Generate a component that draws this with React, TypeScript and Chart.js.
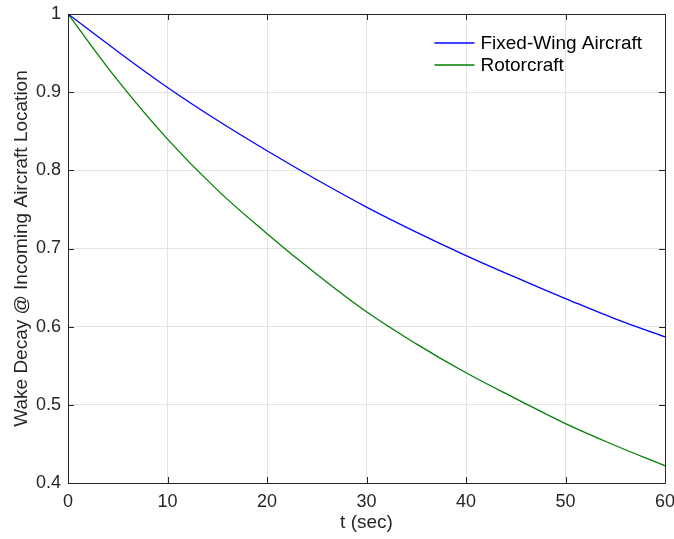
import React, { useEffect, useRef } from 'react';
import { Chart, registerables } from 'chart.js';

Chart.register(...registerables);

const timeSec = [0, 5, 10, 15, 20, 25, 30, 35, 40, 45, 50, 55, 60];
const fixedWing = [1.0, 0.952, 0.906, 0.864, 0.825, 0.788, 0.753, 0.721, 0.691, 0.663, 0.636, 0.610, 0.587];
const rotorcraft = [1.0, 0.915, 0.840, 0.775, 0.719, 0.667, 0.619, 0.578, 0.541, 0.508, 0.476, 0.448, 0.422];
const xTickValues = [0, 10, 20, 30, 40, 50, 60];
const yTickValues = [0.4, 0.5, 0.6, 0.7, 0.8, 0.9, 1.0];
const seriesLabels = ['Fixed-Wing Aircraft', 'Rotorcraft'];
const seriesColors = ['#0000ff', '#008000'];
const xTitle = 't (sec)';
const yTitle = 'Wake Decay @ Incoming Aircraft Location';

const FONT = '"Liberation Sans", Arial, Helvetica, sans-serif';
const AXIS_COLOR = '#262626';

const boxPlugin = {
  id: 'matlabBox',
  afterDraw(chart: any) {
    const { ctx, chartArea } = chart;
    const { left, right, top, bottom } = chartArea;
    const xs = chart.scales.x;
    const ys = chart.scales.y;
    ctx.save();
    ctx.strokeStyle = AXIS_COLOR;
    ctx.lineWidth = 1;
    ctx.beginPath();
    ctx.rect(Math.round(left) + 0.5, Math.round(top) + 0.5, Math.round(right - left), Math.round(bottom - top));
    ctx.stroke();
    const tl = 6;
    ctx.beginPath();
    xTickValues.forEach((v) => {
      const px = Math.round(xs.getPixelForValue(v)) + 0.5;
      ctx.moveTo(px, bottom);
      ctx.lineTo(px, bottom - tl);
      ctx.moveTo(px, top);
      ctx.lineTo(px, top + tl);
    });
    yTickValues.forEach((v) => {
      const py = Math.round(ys.getPixelForValue(v)) + 0.5;
      ctx.moveTo(left, py);
      ctx.lineTo(left + tl, py);
      ctx.moveTo(right, py);
      ctx.lineTo(right - tl, py);
    });
    ctx.stroke();

    // legend
    const datasets = chart.data.datasets;
    ctx.font = `19px ${FONT}`;
    let maxW = 0;
    datasets.forEach((d: any) => {
      maxW = Math.max(maxW, ctx.measureText(d.label).width);
    });
    const textX = right - 23 - maxW;
    ctx.textBaseline = 'middle';
    ctx.textAlign = 'left';
    datasets.forEach((d: any, i: number) => {
      const y = top + 29 + i * 22;
      ctx.strokeStyle = d.borderColor;
      ctx.lineWidth = d.borderWidth;
      ctx.beginPath();
      ctx.moveTo(textX - 46, y);
      ctx.lineTo(textX - 6, y);
      ctx.stroke();
      ctx.fillStyle = '#000000';
      ctx.fillText(d.label, textX, y + 1);
    });
    ctx.restore();
  },
};

export default function App() {
  const canvasRef = useRef<HTMLCanvasElement | null>(null);

  useEffect(() => {
    if (!canvasRef.current) return;
    const chart = new Chart(canvasRef.current, {
      type: 'line',
      data: {
        labels: timeSec,
        datasets: [
          {
            label: seriesLabels[0],
            data: timeSec.map((t, i) => ({ x: t, y: fixedWing[i] })),
            borderColor: seriesColors[0],
            backgroundColor: seriesColors[0],
            borderWidth: 1.3,
            pointRadius: 0,
            tension: 0.4,
            fill: false,
          },
          {
            label: seriesLabels[1],
            data: timeSec.map((t, i) => ({ x: t, y: rotorcraft[i] })),
            borderColor: seriesColors[1],
            backgroundColor: seriesColors[1],
            borderWidth: 1.3,
            pointRadius: 0,
            tension: 0.4,
            fill: false,
          },
        ],
      },
      options: {
        responsive: false,
        animation: false,
        layout: { padding: { top: 14, right: 9, left: 0, bottom: 0 } },
        plugins: {
          legend: { display: false },
          tooltip: { enabled: false },
        },
        scales: {
          x: {
            type: 'linear',
            min: 0,
            max: 60,
            afterBuildTicks: (scale: any) => {
              scale.ticks = xTickValues.map((v) => ({ value: v }));
            },
            afterFit: (scale: any) => {
              scale.height = 56;
              scale.paddingLeft = 0;
              scale.paddingRight = 0;
            },
            grid: { color: '#e3e3e3', lineWidth: 1, drawTicks: false },
            border: { display: false },
            ticks: {
              color: AXIS_COLOR,
              padding: 8,
              font: { family: FONT, size: 18 },
              maxRotation: 0,
              callback: (v: any) => String(v),
            },
            title: {
              display: true,
              text: xTitle,
              color: AXIS_COLOR,
              font: { family: FONT, size: 19 },
              padding: { top: 0, bottom: 5 },
            },
          },
          y: {
            type: 'linear',
            min: 0.4,
            max: 1,
            afterBuildTicks: (scale: any) => {
              scale.ticks = yTickValues.map((v) => ({ value: v }));
            },
            afterFit: (scale: any) => {
              scale.width = 68;
              scale.paddingTop = 0;
              scale.paddingBottom = 0;
            },
            grid: { color: '#e3e3e3', lineWidth: 1, drawTicks: false },
            border: { display: false },
            ticks: {
              color: AXIS_COLOR,
              padding: 7,
              font: { family: FONT, size: 18 },
              callback: (v: any) => String(Math.round(Number(v) * 10) / 10),
            },
            title: {
              display: true,
              text: yTitle,
              color: AXIS_COLOR,
              font: { family: FONT, size: 19 },
              padding: { top: 10, bottom: 0 },
            },
          },
        },
      },
      plugins: [boxPlugin],
    } as any);
    return () => chart.destroy();
  }, []);

  return (
    <div style={{ position: 'fixed', left: 0, top: 0, width: 674, height: 539, background: '#ffffff' }}>
      <canvas ref={canvasRef} width={674} height={539} style={{ display: 'block' }} />
    </div>
  );
}
